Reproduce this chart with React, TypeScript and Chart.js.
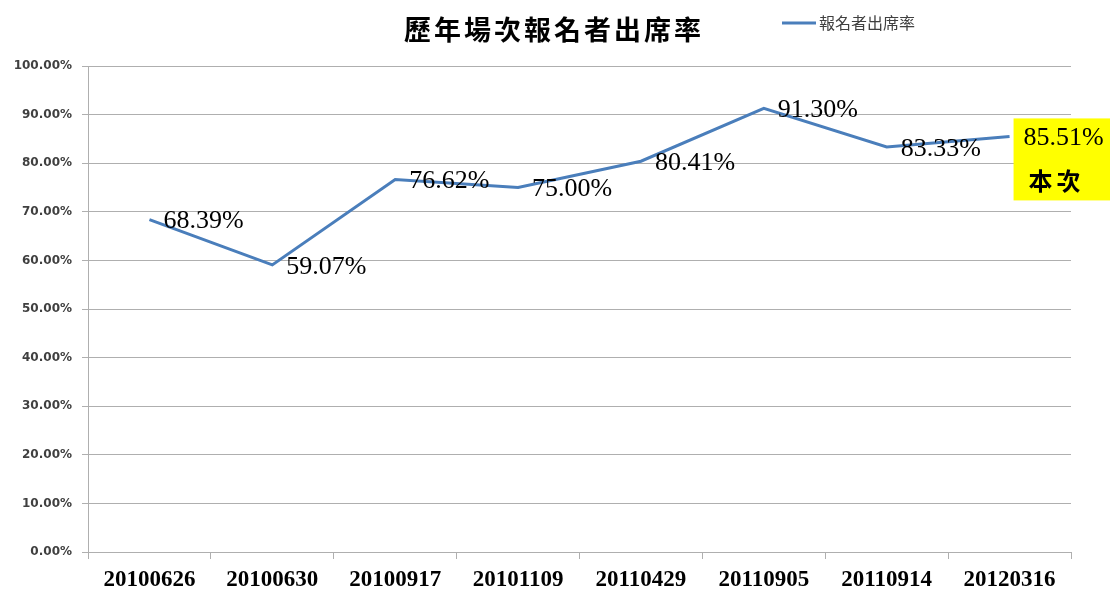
import React, { useEffect, useRef } from "react";
import { Chart, registerables } from "chart.js";

Chart.register(...registerables);

const titleText = "歷年場次報名者出席率";
const seriesName = "報名者出席率";
const categories = [
  "20100626",
  "20100630",
  "20100917",
  "20101109",
  "20110429",
  "20110905",
  "20110914",
  "20120316",
];
const attendance = [68.39, 59.07, 76.62, 75.0, 80.41, 91.3, 83.33, 85.51];
const highlightIndex = 7;
const highlightNote = "本次";
const yMin = 0;
const yMax = 100;
const yStep = 10;

const LINE_COLOR = "#4A7EBB";
const GRID_COLOR = "#AFAFAF";

const overlayPlugin = {
  id: "overlay",
  afterDatasetsDraw(chart: any) {
    const ctx = chart.ctx;
    const meta = chart.getDatasetMeta(0);
    ctx.save();
    meta.data.forEach((pt: any, i: number) => {
      const x = pt.x;
      const y = pt.y;
      if (i === highlightIndex) {
        ctx.fillStyle = "#FFFF00";
        ctx.fillRect(x + 4, y - 18, chart.width - (x + 4), 82);
        ctx.fillStyle = "#000";
        ctx.font = "bold 24px 'Noto Sans CJK TC'";
        ctx.textAlign = "center";
        ctx.textBaseline = "middle";
        (ctx as any).letterSpacing = "4px";
        ctx.fillText(highlightNote, x + 47, y + 44);
        (ctx as any).letterSpacing = "0px";
      }
      ctx.fillStyle = "#000";
      ctx.font = "26px 'Liberation Serif', 'Times New Roman', serif";
      ctx.textAlign = "left";
      ctx.textBaseline = "middle";
      ctx.fillText(attendance[i].toFixed(2) + "%", x + 14, y + 2);
    });

    // Title
    ctx.fillStyle = "#000";
    ctx.font = "bold 27px 'Noto Sans CJK TC'";
    ctx.textAlign = "left";
    ctx.textBaseline = "middle";
    (ctx as any).letterSpacing = "3px";
    ctx.fillText(titleText, 404, 30);
    (ctx as any).letterSpacing = "0px";

    // Legend
    ctx.strokeStyle = LINE_COLOR;
    ctx.lineWidth = 3;
    ctx.beginPath();
    ctx.moveTo(782, 23);
    ctx.lineTo(816, 23);
    ctx.stroke();
    ctx.fillStyle = "#404040";
    ctx.font = "16px 'Noto Sans CJK TC'";
    ctx.textAlign = "left";
    ctx.textBaseline = "middle";
    ctx.fillText(seriesName, 819, 23);
    ctx.restore();
  },
};

export default function App() {
  const canvasRef = useRef<HTMLCanvasElement | null>(null);

  useEffect(() => {
    document.body.style.margin = "0";
    const canvas = canvasRef.current;
    if (!canvas) return;
    const chart = new Chart(canvas, {
      type: "line",
      data: {
        labels: categories,
        datasets: [
          {
            label: seriesName,
            data: attendance,
            borderColor: LINE_COLOR,
            backgroundColor: LINE_COLOR,
            borderWidth: 3,
            pointRadius: 0,
            tension: 0,
          },
        ],
      },
      options: {
        responsive: false,
        animation: false,
        devicePixelRatio: 1,
        layout: { padding: { top: 66, right: 39, left: 0, bottom: 0 } },
        plugins: {
          legend: { display: false },
          title: { display: false },
          tooltip: { enabled: false },
        },
        scales: {
          x: {
            type: "category",
            offset: true,
            grid: {
              offset: true,
              drawOnChartArea: false,
              drawTicks: true,
              tickLength: 7,
              color: GRID_COLOR,
            },
            border: { display: true, color: GRID_COLOR, width: 1 },
            ticks: {
              color: "#000",
              padding: 7,
              maxRotation: 0,
              autoSkip: false,
              font: { family: "'Liberation Serif', 'Times New Roman', serif", size: 23, weight: "bold" },
            },
            afterFit(scale: any) {
              scale.height = 40;
            },
          },
          y: {
            min: yMin,
            max: yMax,
            grid: {
              color: GRID_COLOR,
              drawTicks: true,
              tickLength: 6,
            },
            border: { display: true, color: GRID_COLOR, width: 1 },
            ticks: {
              stepSize: yStep,
              padding: 10,
              color: "#404040",
              font: { family: "'DejaVu Sans', sans-serif", size: 12, weight: "bold" },
              callback: (v: any) => Number(v).toFixed(2) + "%",
            },
            afterFit(scale: any) {
              scale.width = 88;
            },
          },
        },
      },
      plugins: [overlayPlugin],
    });
    return () => chart.destroy();
  }, []);

  return (
    <div style={{ width: 1110, height: 592, background: "#fff" }}>
      <canvas ref={canvasRef} width={1110} height={592} />
    </div>
  );
}
